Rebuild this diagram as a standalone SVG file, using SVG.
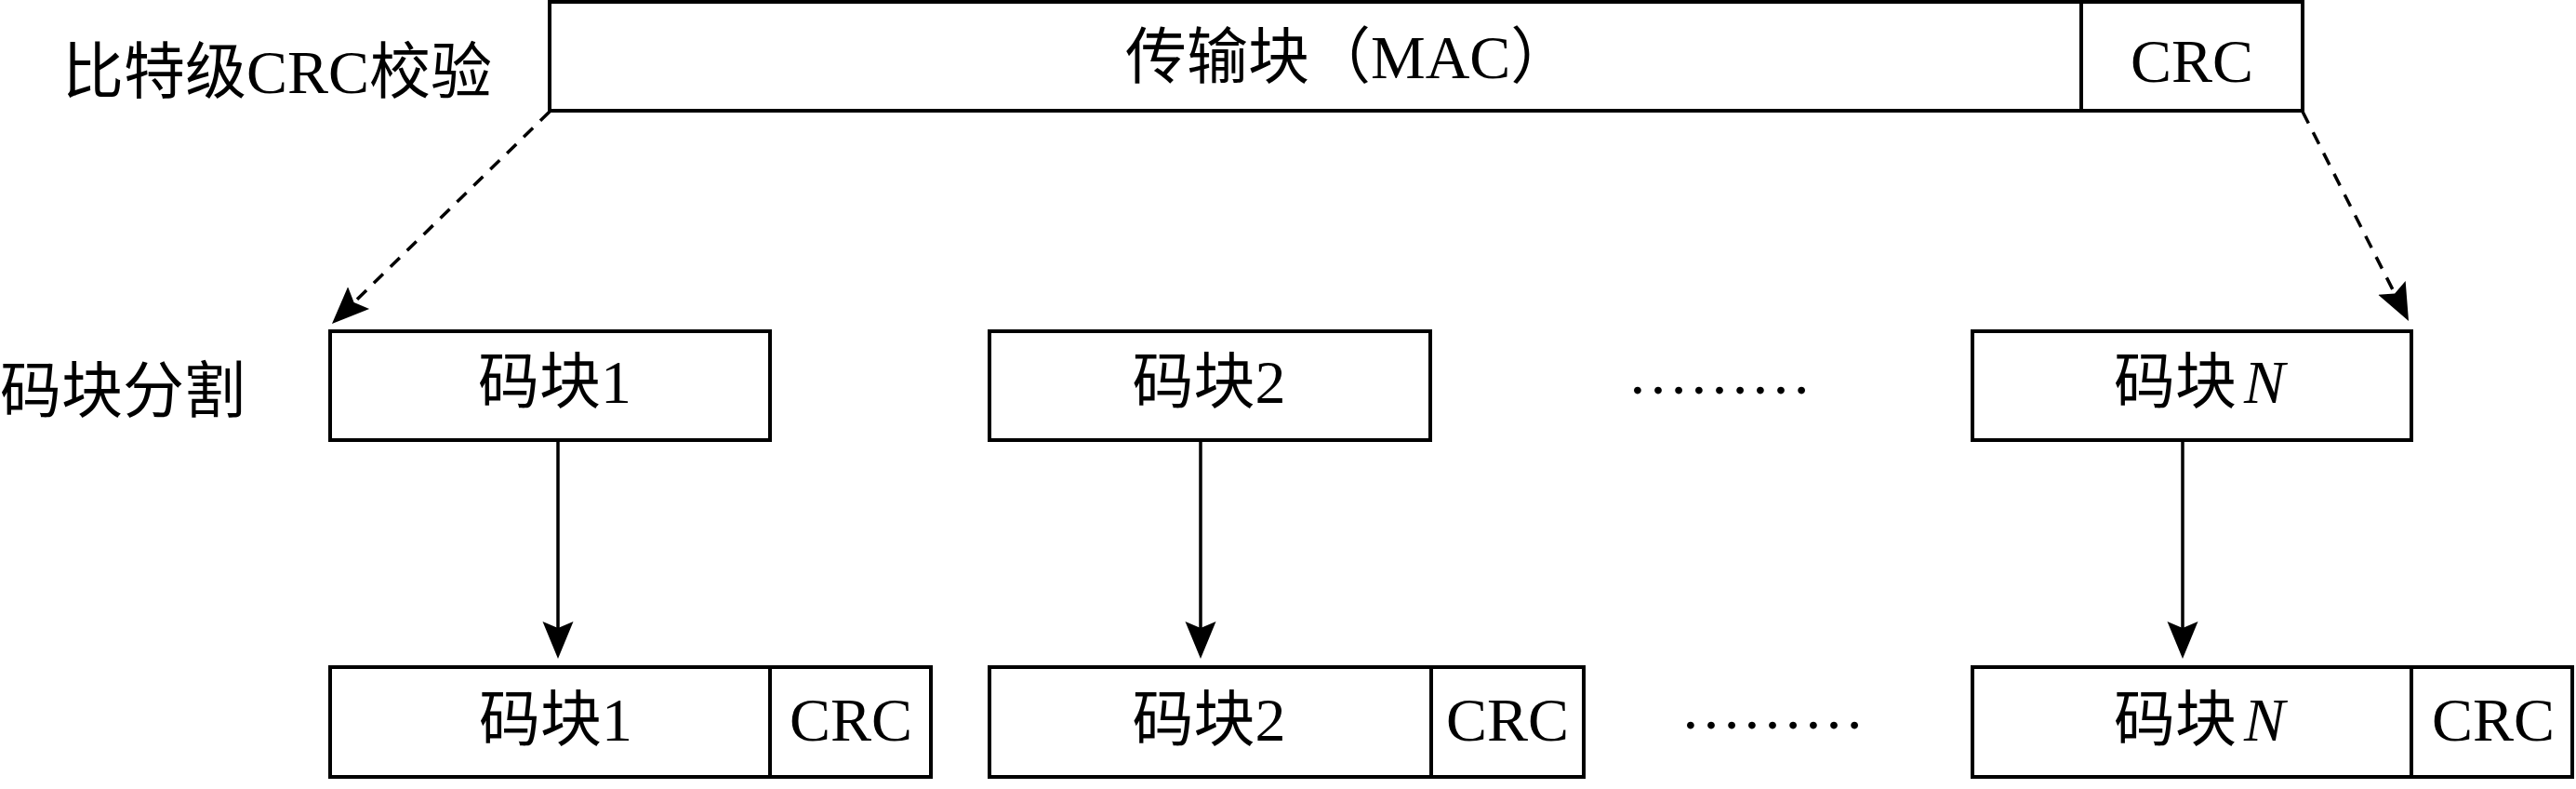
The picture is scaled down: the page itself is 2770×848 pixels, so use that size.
<svg xmlns="http://www.w3.org/2000/svg" width="2770" height="848" viewBox="0 0 2770 848">
<style>
.box{fill:#fff;stroke:#000;stroke-width:4}
.div{stroke:#000;stroke-width:4}
.t{font-family:"Liberation Serif","Noto Sans CJK SC",serif;font-size:66px;fill:#000}
.m{text-anchor:middle}
.con{stroke:#000;stroke-width:3.5;fill:none}
.dash{stroke-dasharray:14 11}
</style>
<defs>
<marker id="ah" markerUnits="userSpaceOnUse" markerWidth="42" markerHeight="36" viewBox="0 -18 42 36" refX="7" refY="0" orient="auto">
<path d="M0,-16.5 L40,0 L0,16.5 L7,0 Z" fill="#000"/>
</marker>
</defs>
<rect width="2770" height="848" fill="#fff"/>
<text class="t" x="67" y="100">比特级CRC校验</text>
<text class="t" x="0" y="443">码块分割</text>
<g id="tb">
<rect class="box" x="591" y="2" width="1885" height="117"/>
<line class="div" x1="2238" y1="2" x2="2238" y2="119"/>
<text class="t" x="1210" y="84">传输块（MAC）</text>
<text class="t m" x="2357" y="88">CRC</text>
</g>
<g id="cb1">
<rect class="box" x="355" y="356" width="473" height="117"/>
<text class="t" x="514" y="433">码块1</text>
</g>
<g id="cb2">
<rect class="box" x="1064" y="356" width="474" height="117"/>
<text class="t m" x="1300" y="433">码块2</text>
</g>
<g id="dots1">
<text class="t" x="1750" y="423">………</text>
</g>
<g id="cbN">
<rect class="box" x="2121" y="356" width="472" height="117"/>
<text class="t" x="2273" y="433">码块<tspan font-style="italic" dx="8">N</tspan></text>
</g>
<g id="cc1">
<rect class="box" x="355" y="717" width="646" height="118"/>
<line class="div" x1="828" y1="717" x2="828" y2="835"/>
<text class="t" x="515" y="796">码块1</text>
<text class="t m" x="915" y="796">CRC</text>
</g>
<g id="cc2">
<rect class="box" x="1064" y="717" width="639" height="118"/>
<line class="div" x1="1539" y1="717" x2="1539" y2="835"/>
<text class="t m" x="1300" y="796">码块2</text>
<text class="t m" x="1621" y="796">CRC</text>
</g>
<g id="dots2">
<text class="t" x="1807" y="783">………</text>
</g>
<g id="ccN">
<rect class="box" x="2121" y="717" width="645" height="118"/>
<line class="div" x1="2593" y1="717" x2="2593" y2="835"/>
<text class="t" x="2273" y="796">码块<tspan font-style="italic" dx="8">N</tspan></text>
<text class="t m" x="2681" y="796">CRC</text>
</g>
<g id="connectors">
<line class="con dash" x1="591" y1="120" x2="380.6" y2="325" marker-end="url(#ah)"/>
<line class="con dash" x1="2476" y1="120" x2="2575.1" y2="315.6" marker-end="url(#ah)"/>
<line class="con" x1="600" y1="475" x2="600" y2="675" marker-end="url(#ah)"/>
<line class="con" x1="1291" y1="475" x2="1291" y2="675" marker-end="url(#ah)"/>
<line class="con" x1="2347" y1="475" x2="2347" y2="675" marker-end="url(#ah)"/>
</g>
</svg>
